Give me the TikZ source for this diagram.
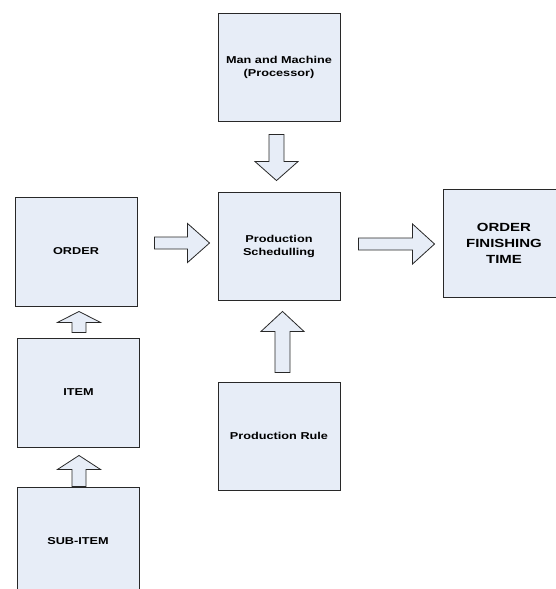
\documentclass[tikz,border=0pt]{standalone}
\usepackage{fontspec}
\usepackage{xcolor}
\usetikzlibrary{calc}
\newfontfamily\boxfont[FakeStretch=1.27]{Liberation Sans Bold}
\definecolor{boxfill}{RGB}{231,237,247}
\definecolor{boxline}{RGB}{40,40,40}

% block arrow: tail, tip, shaft half width, head half width, head length
\newcommand{\blockarrow}[5]{%
  \coordinate (ab) at ($(#2)!#5pt!(#1)$);
  \draw[blockarr] ($(#1)!#3pt!90:(#2)$) -- ($(ab)!#3pt!90:(#2)$) -- ($(ab)!#4pt!90:(#2)$)
    -- (#2) -- ($(ab)!#4pt!-90:(#2)$) -- ($(ab)!#3pt!-90:(#2)$) -- ($(#1)!#3pt!-90:(#2)$) -- cycle;
}

\begin{document}
\begin{tikzpicture}[x=1pt, y=-1pt,
    box/.style={rectangle, draw=boxline, fill=boxfill, line width=0.9pt, minimum width=122pt, minimum height=108pt, align=center, font=\boxfont\fontsize{10}{13}\selectfont},
    bigbox/.style={box, font=\boxfont\fontsize{11.8}{16}\selectfont},
    blockarr/.style={draw=boxline, fill=boxfill, line width=0.8pt, line join=miter}]

\useasboundingbox (0,0) rectangle (556,589);
\clip (0,0) rectangle (556,589);

% Boxes
\node[box] (man) at (279,67) {Man and Machine\\(Processor)};
\node[box] (sched) at (279,246) {Production\\Schedulling};
\node[box] (rule) at (279,436) {Production Rule};
\node[box, minimum height=109pt] (order) at (76,251.5) {ORDER};
\node[box, minimum height=109pt] (item) at (78.5,392.5) {ITEM};
\node[box] (subitem) at (78,541) {SUB-ITEM};
\node[bigbox] (finish) at (504,243) {ORDER\\FINISHING\\TIME};

% Arrow ends
\coordinate (o1) at ($(order.east)+(17,-8.5)$);
\coordinate (s1) at ($(sched.west)+(-8,-3)$);
\coordinate (s2) at ($(sched.east)+(18,-2)$);
\coordinate (f2) at ($(finish.west)+(-8,1)$);
\coordinate (m3) at ($(man.south)+(-2.5,13)$);
\coordinate (s3) at ($(sched.north)+(-2.5,-11)$);
\coordinate (r4) at ($(rule.north)+(3.5,-9)$);
\coordinate (s4) at ($(sched.south)+(3.5,11)$);
\coordinate (i5) at ($(item.north)+(0.5,-5)$);
\coordinate (o5) at ($(order.south)+(3,5)$);
\coordinate (u6) at ($(subitem.north)+(1,0)$);
\coordinate (i6) at ($(item.south)+(0.5,8)$);

% Arrows
\blockarrow{o1}{s1}{6}{19.5}{22}
\blockarrow{s2}{f2}{6}{20}{22}
\blockarrow{m3}{s3}{7.5}{21.5}{19}
\blockarrow{r4}{s4}{7.5}{21.5}{20}
\blockarrow{i5}{o5}{7}{21.5}{11}
\blockarrow{u6}{i6}{7}{21.5}{14}

\end{tikzpicture}
\end{document}
